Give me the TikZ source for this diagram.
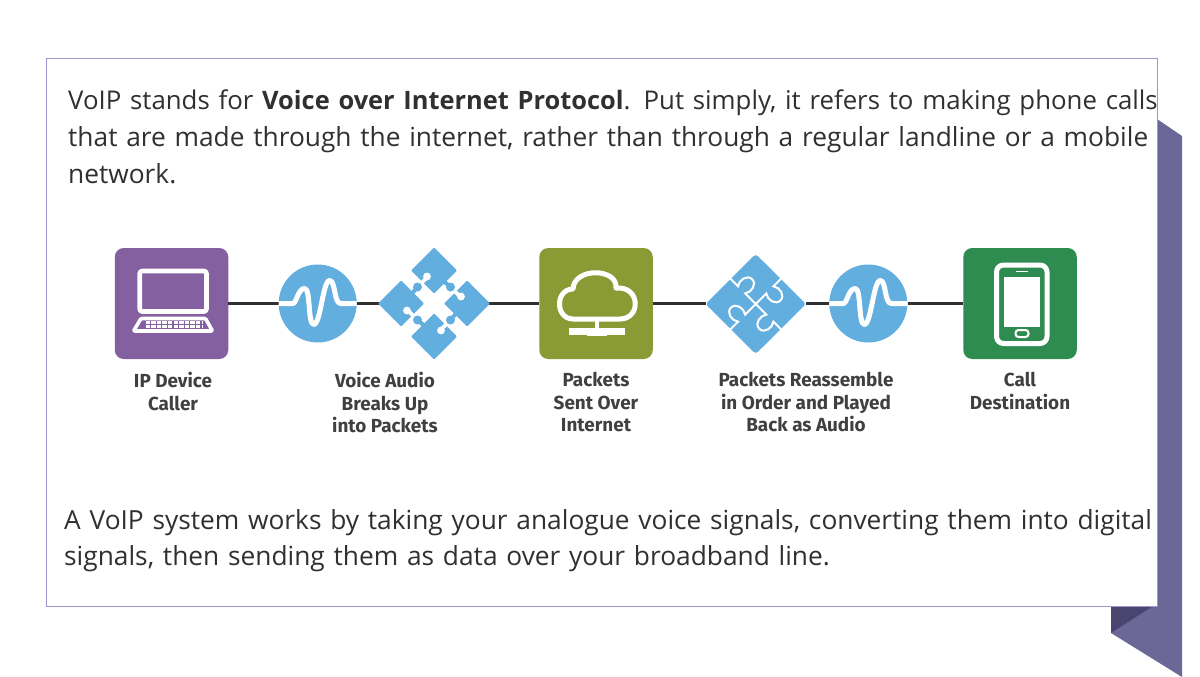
\documentclass[tikz,border=0pt]{standalone}
\usepackage{fontspec}
\setmainfont{Open Sans}
\newfontfamily\labelfont{Fira Sans}
\definecolor{bandc}{HTML}{6B6898}
\definecolor{bandd}{HTML}{4A4570}
\definecolor{framec}{HTML}{9C97CC}
\definecolor{purp}{HTML}{8560A0}
\definecolor{oliv}{HTML}{8A9A35}
\definecolor{grn}{HTML}{2F8C50}
\definecolor{blu}{HTML}{62AEDF}
\definecolor{ink}{HTML}{303030}
\definecolor{lab}{HTML}{404040}
\tikzset{
  tile/.style={rounded corners=9pt,minimum width=113.5pt,minimum height=111pt,inner sep=0pt,draw=none},
  disc/.style={circle,fill=blu,minimum size=78pt,inner sep=0pt},
  puzzlebox/.style={inner sep=0pt,draw=none},
  wire/.style={draw=ink,line width=3.6pt},
  glyph/.style={draw=white,line width=4.6pt,line join=round},
  captext/.style={font=\labelfont\bfseries\fontsize{18.9}{22.5}\selectfont,text=lab,align=center,anchor=north,inner sep=0pt},
  para/.style={font=\fontsize{26.3}{36.6}\selectfont,text=ink,align=left,anchor=north west,inner sep=0pt,text width=1125pt}
}
\newcommand{\wavemark}[2]{\draw[white,line width=5pt,line join=round] (#1-39,#2)--(#1-25,#2) .. controls (#1-21,#2) and (#1-20,#2-15) .. (#1-13,#2-15) .. controls (#1-7,#2-15) and (#1-10,#2+21) .. (#1-4,#2+21) .. controls (#1+3,#2+21) and (#1+5,#2-23) .. (#1+12,#2-23) .. controls (#1+18,#2-23) and (#1+16,#2) .. (#1+23,#2)--(#1+39,#2);}
\begin{document}
\begin{tikzpicture}[x=1pt,y=-1pt]
\useasboundingbox (0,0) rectangle (1200,677);
% ribbon behind the panel
\fill[bandc] (1157,119)--(1182,136)--(1182,677)--(1111,633)--(1111,600)--(1157,600)--cycle;
\fill[bandd] (1111,606)--(1153,606)--(1111,633)--cycle;
% panel
\node[draw=framec,fill=white,line width=0.8pt,minimum width=1111pt,minimum height=548pt,inner sep=0pt,anchor=north west] (panel) at (46,58) {};
% text
\node[para] (intro) at (68,90) {\fontsize{25.8}{36.6}\selectfont VoIP stands for {\fontsize{25.4}{36.6}\selectfont\bfseries Voice over Internet Protocol}. Put simply, it refers to making phone calls\\\fontsize{26.3}{36.6}\selectfont that are made through the internet, rather than through a regular landline or a mobile\\network.};
\node[para] (outro) at (64,509) {A VoIP system works by taking your analogue voice signals, converting them into digital\\signals, then sending them as data over your broadband line.};
% nodes
\node[tile,fill=purp] (caller) at (171.5,303.5) {};
\node[disc] (wavea) at (317.7,303.5) {};
\node[puzzlebox,minimum width=108pt,minimum height=111pt] (split) at (434,303.5) {};
\node[tile,fill=oliv] (cloud) at (596,303.5) {};
\node[puzzlebox,minimum width=100pt,minimum height=100pt] (join) at (755.7,303.5) {};
\node[disc] (waveb) at (868.3,303.5) {};
\node[tile,fill=grn] (dest) at (1020,303.5) {};
% connectors
\draw[wire] (caller.east)--(wavea.west);
\draw[wire] (wavea.east)--(split.west);
\draw[wire] (split.east)--(cloud.west);
\draw[wire] (cloud.east)--(join.west);
\draw[wire] (join.east)--(waveb.west);
\draw[wire] (waveb.east)--(dest.west);
% waves
\wavemark{317.7}{303.5}
\wavemark{868.3}{303.5}
% laptop
\draw[glyph,rounded corners=2.5pt] (139.7,271) rectangle (206.5,311.5);
\draw[draw=white,line width=3.6pt,line join=round,rounded corners=1pt] (141,318.5)--(205.5,318.5)--(212.5,331)--(133.5,331)--cycle;
\foreach \r/\a/\b in {322.8/145.5/202,326.8/145.5/202}{
  \draw[white,line width=3pt,dash pattern=on 4.4pt off 1.2pt] (\a,\r)--(\b,\r);
}
% split puzzle
\foreach \ang in {0,-90,-180,-270}{
  \begin{scope}[shift={(434,303.5)},rotate=\ang]
    \fill[blu,rounded corners=1pt] (0,-56)--(23,-33)--(0,-10)--(-23,-33)--cycle;
    \draw[blu,line width=4pt] (10,-22)--(16.5,-16.5);
    \fill[blu] (16.5,-16.5) circle (4.5pt);
    \draw[white,line width=3.6pt] (-12,-21)--(-7,-26);
    \fill[white] (-7,-27) circle (3.9pt);
  \end{scope}
}
% cloud
\draw[glyph,line width=5pt] (573,319) .. controls (555,319) and (555,289) .. (573,289)
  .. controls (574,267) and (618,268) .. (616,288)
  .. controls (641,286) and (641,319) .. (620,319) -- cycle;
\draw[white,line width=4pt] (596.7,320)--(596.7,331);
\draw[white,line width=6.5pt] (569,331.7)--(625,331.7);
\draw[white,line width=7pt] (587,332.5)--(607,332.5);
% join puzzle
\fill[blu,rounded corners=3pt] (755.7,254)--(806,304)--(755.7,354)--(705.5,304)--cycle;
\foreach \ang in {45,135,225,315}{
  \begin{scope}[shift={(755.7,304)},rotate=\ang]
    \draw[white,line width=2pt] (0,0)--(15,0) .. controls (11,5) and (13,15) .. (20,15) .. controls (27,15) and (29,5) .. (25,0) -- (36.5,0);
  \end{scope}
}
% phone
\draw[glyph,line width=5pt,rounded corners=7pt] (996.5,265) rectangle (1047,343.5);
\fill[white] (1004,276.7) rectangle (1040,326.7);
\draw[white,line width=1.8pt] (1015.5,271.5)--(1027.5,271.5);
\draw[white,line width=2pt,rounded corners=3pt] (1015.5,330) rectangle (1028.5,337);
% captions
\node[captext] (capa) at (173,372) {IP Device\\Caller};
\node[captext] (capb) at (385,372) {Voice Audio\\Breaks Up\\into Packets};
\node[captext] (capc) at (596,372) {Packets\\Sent Over\\Internet};
\node[captext] (capd) at (806,372) {Packets Reassemble\\in Order and Played\\Back as Audio};
\node[captext] (cape) at (1020,372) {Call\\Destination};
\end{tikzpicture}
\end{document}
